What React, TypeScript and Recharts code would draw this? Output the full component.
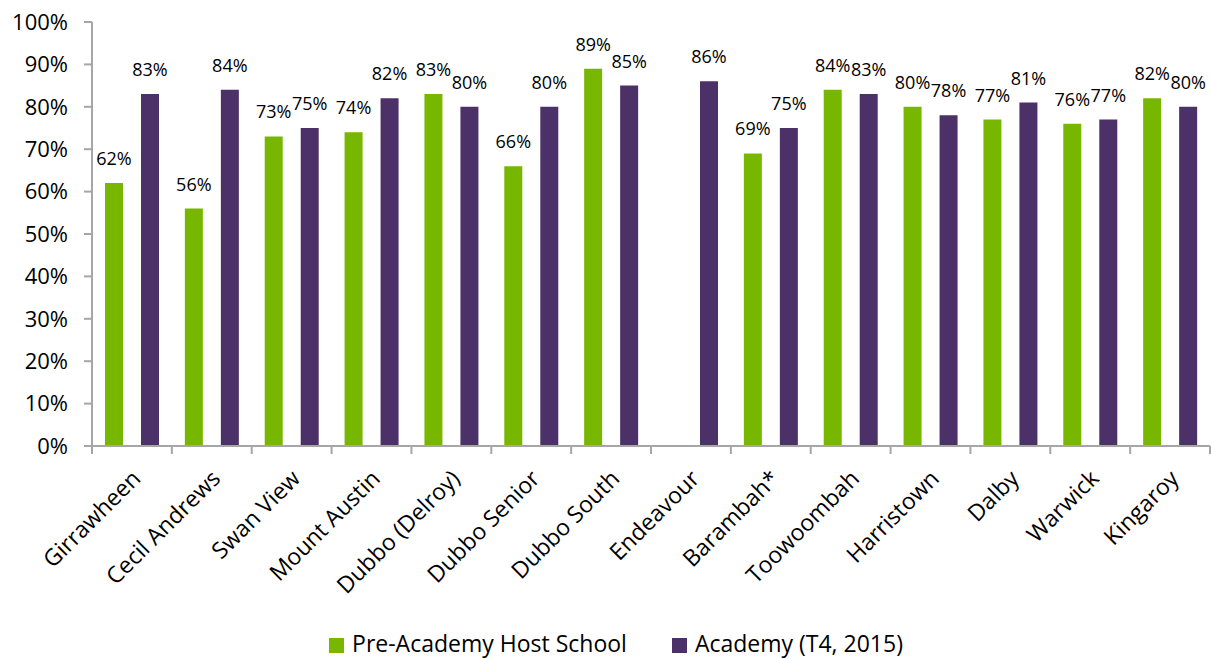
import { BarChart, Bar, XAxis, YAxis, Legend, LabelList } from "recharts";

const schools = [
  "Girrawheen",
  "Cecil Andrews",
  "Swan View",
  "Mount Austin",
  "Dubbo (Delroy)",
  "Dubbo Senior",
  "Dubbo South",
  "Endeavour",
  "Barambah*",
  "Toowoombah",
  "Harristown",
  "Dalby",
  "Warwick",
  "Kingaroy",
];
const preAcademy = [62, 56, 73, 74, 83, 66, 89, null, 69, 84, 80, 77, 76, 82];
const academy = [83, 84, 75, 82, 80, 80, 85, 86, 75, 83, 78, 81, 77, 80];
const yTicks = [0, 10, 20, 30, 40, 50, 60, 70, 80, 90, 100];

const GREEN = "#78b700";
const PURPLE = "#4c3068";
const FONT = "'Open Sans', 'Noto Sans', sans-serif";

const W = 1211;
const H = 659;
const M = { top: 22, right: 1, left: 0, bottom: 0 };
const Y_W = 92;
const PLOT_W = W - M.left - M.right - Y_W;
const BAND = PLOT_W / schools.length;

const data = schools.map((name, i) => ({
  name,
  pre: preAcademy[i],
  academy: academy[i],
}));

const pct = (v: any) => (v == null ? "" : `${v}%`);

function XTick(props: any) {
  const { x, y, payload, index } = props;
  const left = x - BAND / 2;
  const tx = x + 10;
  const ty = y + 26;
  return (
    <g>
      <line x1={left} y1={y - 8} x2={left} y2={y} stroke="#a6a6a6" strokeWidth={2} />
      {index === schools.length - 1 && (
        <line x1={x + BAND / 2} y1={y - 8} x2={x + BAND / 2} y2={y} stroke="#a6a6a6" strokeWidth={2} />
      )}
      <text
        x={tx}
        y={ty}
        transform={`rotate(-45, ${tx}, ${ty})`}
        textAnchor="end"
        fontSize={23}
        fontFamily={FONT}
        fill="#000"
      >
        {payload.value}
      </text>
    </g>
  );
}

const labelStyle = { fontSize: 18, fontFamily: FONT, fill: "#000" };

export default function App() {
  return (
    <div style={{ position: "absolute", left: 0, top: 0, background: "#fff" }}>
      <BarChart
        width={W}
        height={H}
        data={data}
        margin={M}
        barGap={18}
        barCategoryGap={13}
      >
        <XAxis
          dataKey="name"
          interval={0}
          tickLine={false}
          axisLine={{ stroke: "#a6a6a6", strokeWidth: 2 }}
          tick={<XTick />}
          height={181}
        />
        <YAxis
          width={Y_W}
          domain={[0, 100]}
          ticks={yTicks}
          tickFormatter={pct}
          tickSize={8}
          tickMargin={16}
          axisLine={{ stroke: "#a6a6a6", strokeWidth: 2 }}
          tickLine={{ stroke: "#a6a6a6", strokeWidth: 2 }}
          tick={{ fontSize: 22, fontFamily: FONT, fill: "#000" }}
        />
        <Legend
          verticalAlign="bottom"
          iconType="square"
          iconSize={15}
          itemSorter={(item: any) => (item.dataKey === "pre" ? 0 : 1)}
          wrapperStyle={{ fontFamily: FONT, fontSize: 23, paddingLeft: 16 }}
          formatter={(v: any, _e: any, i: number) => (
            <span style={{ color: "#000", marginLeft: 4, marginRight: i === 0 ? 35 : 0 }}>{v}</span>
          )}
        />
        <Bar dataKey="pre" name="Pre-Academy Host School" fill={GREEN} barSize={18} isAnimationActive={false}>
          <LabelList dataKey="pre" position="top" offset={18} formatter={pct} style={labelStyle} />
        </Bar>
        <Bar dataKey="academy" name="Academy (T4, 2015)" fill={PURPLE} barSize={18} isAnimationActive={false}>
          <LabelList dataKey="academy" position="top" offset={18} formatter={pct} style={labelStyle} />
        </Bar>
      </BarChart>
    </div>
  );
}
